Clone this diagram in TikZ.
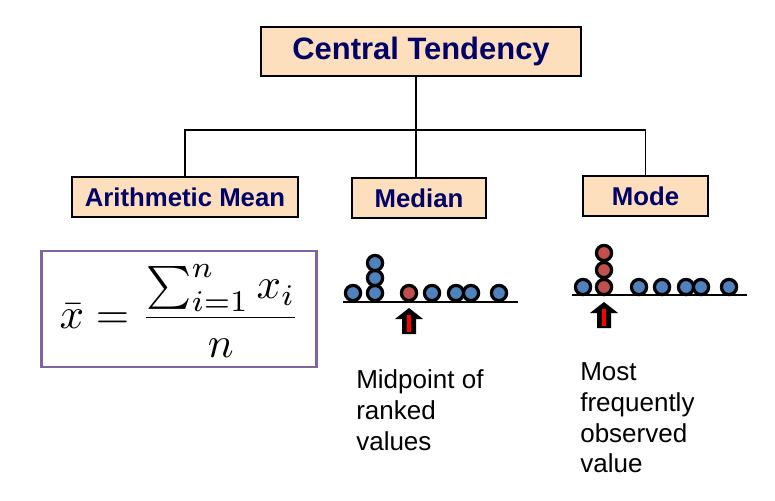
\documentclass[tikz,border=0pt]{standalone}
\usepackage{amsmath}
\usepackage{graphicx}
\usepackage[no-math]{fontspec}
\setmainfont{Liberation Sans}
\usetikzlibrary{shadows}
\definecolor{boxfill}{RGB}{253,223,190}
\definecolor{navy}{RGB}{0,0,102}
\definecolor{framepurple}{RGB}{128,100,162}
\definecolor{dotblue}{RGB}{79,129,189}
\definecolor{dotred}{RGB}{192,80,77}
\tikzset{
  headbox/.style={draw, line width=1.2pt, fill=boxfill, text=navy, inner sep=0pt,
    drop shadow={shadow xshift=1pt, shadow yshift=-1pt, fill=black!35, opacity=1}},
  link/.style={line width=1.4pt},
  axisline/.style={line width=2.1pt},
  dot/.style={circle, draw, line width=2.3pt, fill=dotblue, inner sep=0pt, minimum size=0.38cm},
  reddot/.style={dot, fill=dotred},
  note/.style={anchor=north west, align=left, inner sep=0pt, font=\fontsize{18.5}{22}\selectfont}
}

\begin{document}
\begin{tikzpicture}[x=0.025cm, y=-0.025cm]
    \useasboundingbox (0,0) rectangle (775,500);

    \node[headbox, minimum width=8cm, minimum height=1.225cm, font=\bfseries\fontsize{22}{26}\selectfont] (ct) at (421,51.5) {Central Tendency};
    \node[headbox, minimum width=5.65cm, minimum height=1cm, font=\bfseries\fontsize{18.3}{22}\selectfont] (am) at (185,197) {Arithmetic Mean};
    \node[headbox, minimum width=3.35cm, minimum height=1cm, font=\bfseries\fontsize{18.3}{22}\selectfont] (md) at (419,198) {Median};
    \node[headbox, minimum width=3.125cm, minimum height=1cm, font=\bfseries\fontsize{18.3}{22}\selectfont] (mo) at (645.5,196) {Mode};

    \coordinate (bar) at (416,130);
    \draw[link] (ct.south -| bar) -- (bar);
    \draw[link] (am.north) -- (am.north |- bar) -- (mo.north |- bar) -- (mo.north);
    \draw[link] (md.north -| bar) -- (bar);

    \node[draw=framepurple, line width=2.1pt, minimum width=6.85cm, minimum height=2.9cm] (mean) at (179,309) {};
    \node (formula) at (180,311) {\scalebox{3.05}{$\displaystyle \bar{x} = \frac{\sum_{i=1}^{n} x_i}{n}$}};

    \draw[axisline] (343,302) -- (518,302);
    \node[dot] (md1) at (353,293) {};
    \node[dot] (md2) at (375,293) {};
    \node[dot] (md3) at (375,278) {};
    \node[dot] (md4) at (375,263) {};
    \node[reddot] (md5) at (409,293) {};
    \node[dot] (md6) at (432,293) {};
    \node[dot] (md7) at (456,293) {};
    \node[dot] (md8) at (471,293) {};
    \node[dot] (md9) at (499,293) {};

    \coordinate (mdtip) at (409,308);
    \fill (mdtip) -- ++(-14,11) -- ++(7,0) -- ++(0,15) -- ++(14,0) -- ++(0,-15) -- ++(7,0) -- cycle;
    \draw[red, line width=2.4pt] (mdtip) ++(0,7) -- ++(0,17);

    \draw[axisline] (572,295) -- (747,295);
    \node[dot] (mo1) at (583,287) {};
    \node[reddot] (mo2) at (604,287) {};
    \node[reddot] (mo3) at (604,270) {};
    \node[reddot] (mo4) at (604,253) {};
    \node[dot] (mo5) at (639,287) {};
    \node[dot] (mo6) at (662,287) {};
    \node[dot] (mo7) at (686,287) {};
    \node[dot] (mo8) at (701,287) {};
    \node[dot] (mo9) at (729,287) {};

    \coordinate (motip) at (604,302);
    \fill (motip) -- ++(-14,11) -- ++(7,0) -- ++(0,15) -- ++(14,0) -- ++(0,-15) -- ++(7,0) -- cycle;
    \draw[red, line width=2.4pt] (motip) ++(0,7) -- ++(0,17);

    \node[note] (mdtext) at (356,369) {Midpoint of\\ranked\\values};
    \node[note] (motext) at (580,362) {Most\\frequently\\observed\\value};
\end{tikzpicture}
\end{document}
